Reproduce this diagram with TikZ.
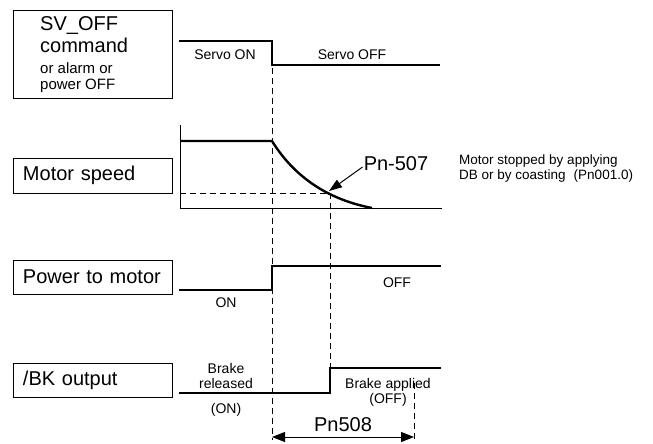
\documentclass[tikz,border=0pt]{standalone}
\usepackage{fontspec}
\setmainfont{Liberation Sans}
\usetikzlibrary{arrows.meta, positioning}

\begin{document}
\begin{tikzpicture}[
    x=1pt, y=-1pt,
    sigbox/.style={rectangle, draw=black, line width=0.9pt, minimum width=159pt, text width=139pt, inner xsep=10pt, align=left, font=\fontsize{20}{22}\selectfont},
    wave/.style={line width=2.4pt},
    guide/.style={line width=0.8pt, dash pattern=on 6pt off 4pt},
    lbl/.style={font=\fontsize{14}{15}\selectfont, align=center, inner sep=0pt},
    biglbl/.style={font=\fontsize{20}{22}\selectfont, inner sep=0pt},
    arrow/.style={-{Triangle[length=13pt, width=9pt]}, line width=1pt}
]
\useasboundingbox (0,0) rectangle (653,444);

% Cajas de senales
\node[rectangle, draw=black, line width=0.9pt, minimum width=159pt, minimum height=88pt] (svoff) at (92.5,54) {};
\node[biglbl, align=left, anchor=west] (svtext) at (40,55) {SV\_OFF\\command\\[-1pt]{\fontsize{15}{15}\selectfont or alarm or}\\[-6pt]{\fontsize{15}{15}\selectfont power OFF}};
\node[sigbox, minimum height=35pt] (speedbox) at (92.5,175.5) {Motor speed};
\node[sigbox, minimum height=34pt] (powerbox) at (92.5,277) {Power to motor};
\node[sigbox, minimum height=34pt] (bkbox) at (92.5,380) {/BK output};

% Lineas guia
\draw[guide] (272,68) -- (272,440);
\draw[guide] (330,193) -- (330,368);
\draw[guide] (414,383) -- (414,440);
\draw[guide] (180,193) -- (330,193);

% SV_OFF
\draw[wave] (179,41) -- (272,41) -- (272,65) -- (440,65);
\node[lbl] (servoon) at (225,55) {Servo ON};
\node[lbl] (servooff) at (352,55) {Servo OFF};

% Velocidad del motor
\draw[line width=1pt] (180,125) -- (180,208) -- (442,208);
\draw[wave] (180,141) -- (272,141) .. controls (290,170) and (320,198) .. (372,208);
\coordinate (stoppt) at (329,191);
\node[biglbl] (pn507) at (396,164) {Pn-507};
\draw[arrow] ([xshift=-1pt,yshift=-3pt]pn507.west) -- (stoppt);
\node[lbl, font=\fontsize{13.5}{15}\selectfont, align=left, anchor=west] (dbnote) at (459,169) {Motor stopped by applying\\DB or by coasting\hspace{8pt}(Pn001.0)};

% Potencia al motor
\draw[wave] (179,290) -- (272,290) -- (272,266) -- (441,266);
\node[lbl] (poweron) at (226,303) {ON};
\node[lbl] (poweroff) at (397,283) {OFF};

% Salida /BK
\draw[wave] (179,393) -- (330,393) -- (330,368) -- (441,368);
\node[lbl] (released) at (226,376) {Brake\\released};
\node[lbl] (bkon) at (226,410) {(ON)};
\node[lbl] (applied) at (388,392) {Brake applied\\(OFF)};

% Pn508
\coordinate (pnA) at (272,437);
\coordinate (pnB) at (414,437);
\draw[{Triangle[length=13pt, width=10pt]}-{Triangle[length=13pt, width=10pt]}, line width=1pt] (pnA) -- (pnB);
\node[biglbl] (pn508) at (343,425) {Pn508};

\end{tikzpicture}
\end{document}
